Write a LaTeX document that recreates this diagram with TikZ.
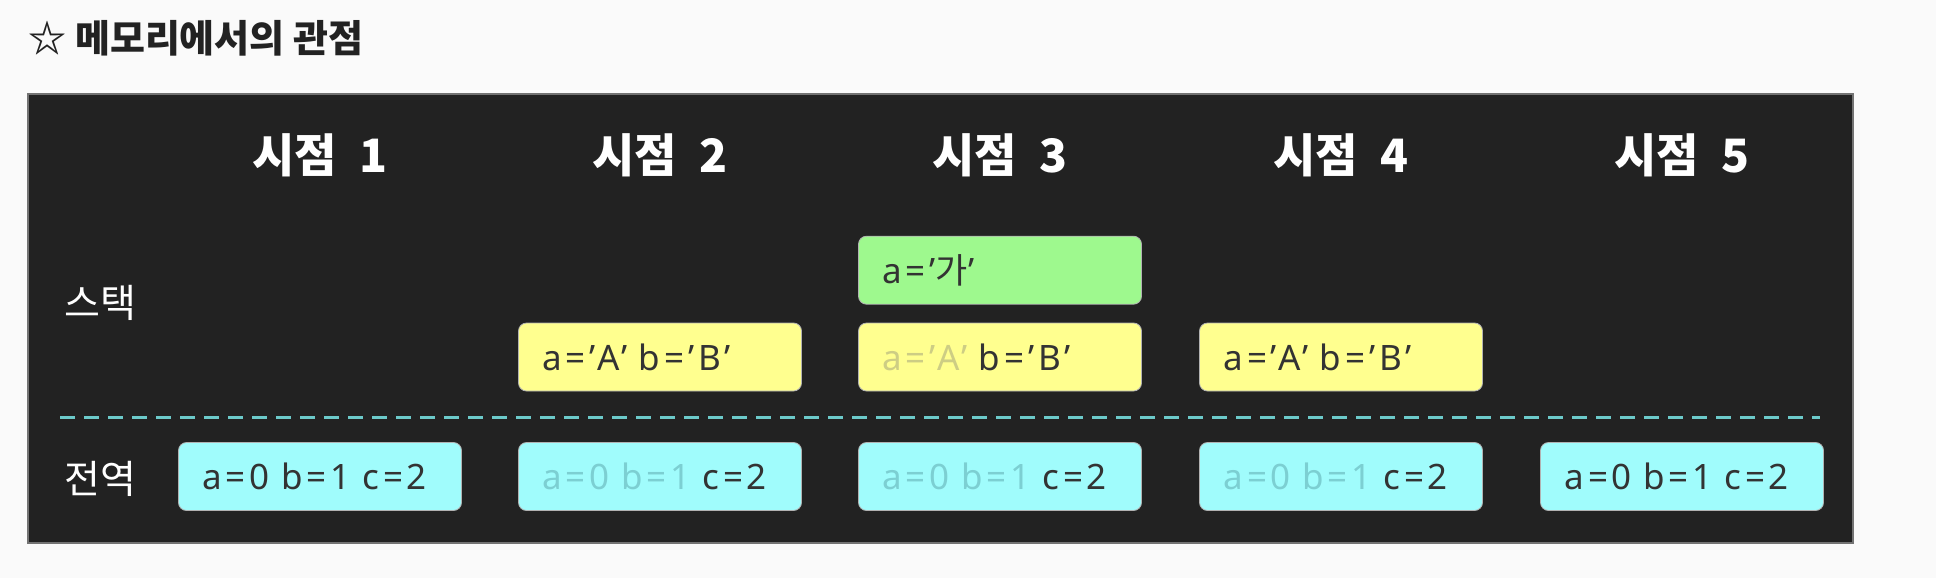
\documentclass[tikz,border=0pt]{standalone}
\usepackage{fontspec}
\setmainfont{Noto Sans}[LetterSpace=11]
\newfontfamily\kr{Noto Sans CJK KR}
\usepackage{tikz}
\usetikzlibrary{positioning}
\definecolor{pagebg}{HTML}{FAFAFA}
\definecolor{panelbg}{HTML}{222222}
\definecolor{titletext}{HTML}{222222}
\definecolor{stackfill}{HTML}{FFFF8F}
\definecolor{newfill}{HTML}{9EF98E}
\definecolor{globfill}{HTML}{A0FCFC}
\definecolor{boxtext}{HTML}{333333}
\definecolor{fadeglob}{HTML}{7CCFD2}
\definecolor{fadestack}{HTML}{CDCD84}
\definecolor{splitline}{HTML}{6CCACA}

\begin{document}
\begin{tikzpicture}[
  x=0.5pt, y=-0.5pt,
  membox/.style={draw=black!30, line width=0.4pt, rounded corners=4pt,
    text width=117.5pt, inner xsep=12pt, minimum height=34pt, align=left,
    text=boxtext, font=\fontsize{17.5}{20}\selectfont},
  stackbox/.style={membox, fill=stackfill},
  newbox/.style={membox, fill=newfill},
  globbox/.style={membox, fill=globfill},
  header/.style={text=white, font=\kr\bfseries\fontsize{23}{26}\selectfont},
  rowlabel/.style={text=white, font=\kr\fontsize{19.5}{22}\selectfont},
]
  % Page background
  \fill[pagebg] (0,0) rectangle (1936,578);
  \useasboundingbox (0,0) rectangle (1936,578);

  % Title
  \node[anchor=west, inner sep=0pt, text=titletext,
    font=\kr\bfseries\fontsize{19}{22}\selectfont] (title) at (28,38)
    {☆ 메모리에서의 관점};

  % Dark panel
  \node[draw=black!55, line width=1pt, fill=panelbg, inner sep=0pt,
    minimum width=912.5pt, minimum height=224.5pt] (panel) at (940.5,318.5) {};

  % Time headers
  \node[header] (t1) at (320,155) {시점\hspace{0.5em}1};
  \node[header] (t2) at (660,155) {시점\hspace{0.5em}2};
  \node[header] (t3) at (1000,155) {시점\hspace{0.5em}3};
  \node[header] (t4) at (1341,155) {시점\hspace{0.5em}4};
  \node[header] (t5) at (1682,155) {시점\hspace{0.5em}5};

  % Row labels
  \node[rowlabel] (stacklbl) at (100,303) {스택};
  \node[rowlabel] (globlbl) at (100,479) {전역};

  % Stack frames
  \node[stackbox] (st2) at (660,357) {a=’A’ b=’B’};
  \node[stackbox] (st3) at (1000,357) {\textcolor{fadestack}{a=’A’} b=’B’};
  \node[newbox, above=9pt of st3] (new3) {a=’{\kr 가}’};
  \node[stackbox] (st4) at (1341,357) {a=’A’ b=’B’};

  % Stack / global border
  \coordinate (splitL) at (60,417);
  \coordinate (splitR) at (1820,417);
  \draw[splitline, line width=1.5pt, dash pattern=on 7.5pt off 4.5pt]
    (splitL) -- (splitR);

  % Globals
  \node[globbox] (gl1) at (320,476.5) {a=0 b=1 c=2};
  \node[globbox] (gl2) at (660,476.5) {\textcolor{fadeglob}{a=0 b=1} c=2};
  \node[globbox] (gl3) at (1000,476.5) {\textcolor{fadeglob}{a=0 b=1} c=2};
  \node[globbox] (gl4) at (1341,476.5) {\textcolor{fadeglob}{a=0 b=1} c=2};
  \node[globbox] (gl5) at (1682,476.5) {a=0 b=1 c=2};
\end{tikzpicture}
\end{document}
